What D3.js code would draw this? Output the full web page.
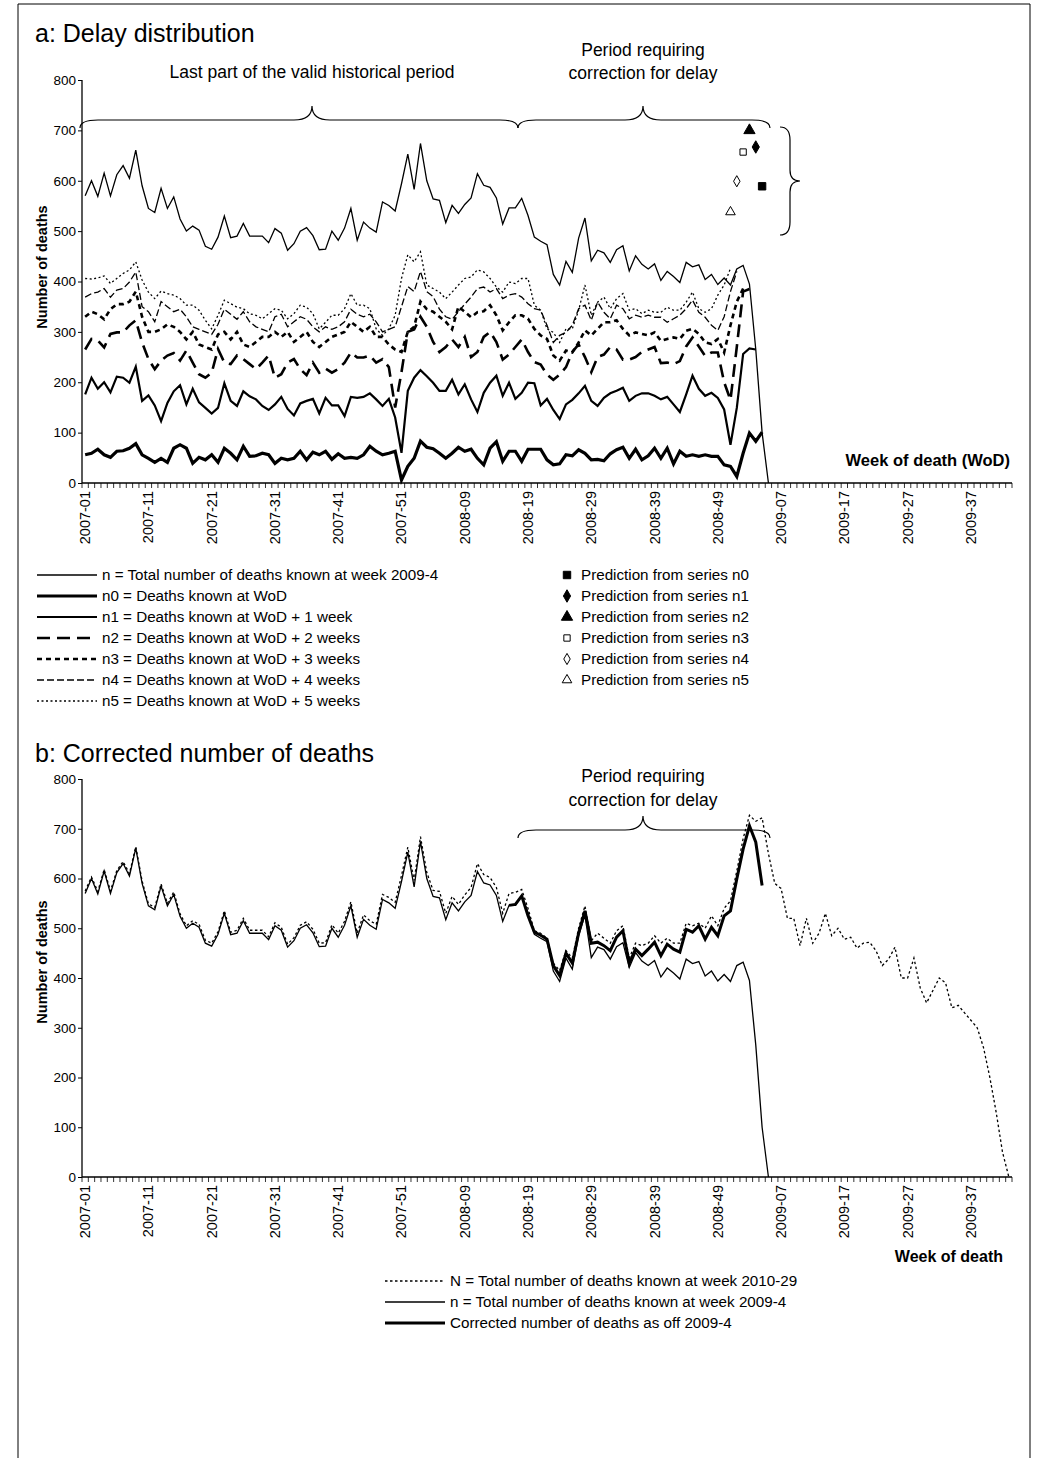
<!DOCTYPE html>
<html><head><meta charset="utf-8">
<script src="https://cdn.jsdelivr.net/npm/d3@7"></script>
<style>body{margin:0;background:#fff}svg text{font-family:"Liberation Sans",Arial,sans-serif}</style>
</head><body>
<svg id="c" width="1044" height="1458"></svg>
<script>
// ---- data ----
const nWeeks = 147; // 2007-01 .. 2009-43
const categories = [];
for (let i = 0; i < nWeeks; i++) {
  const y = i < 52 ? 2007 : i < 104 ? 2008 : 2009;
  const w = i < 52 ? i + 1 : i < 104 ? i - 51 : i - 103;
  categories.push(y + "-" + String(w).padStart(2, "0"));
}
const tickLabels = ["2007-01","2007-11","2007-21","2007-31","2007-41","2007-51","2008-09","2008-19","2008-29","2008-39","2008-49","2009-07","2009-17","2009-27","2009-37"];
const yTicks = [0,100,200,300,400,500,600,700,800];

const nTotal = [570,600,569,615,570,612,630,605,661,590,545,537,585,545,568,524,500,510,502,470,464,488,530,487,490,515,490,490,490,477,
505,496,462,475,500,507,491,463,464,500,482,506,545,482,518,506,498,558,551,540,594,653,583,674,600,564,561,517,551,535,553,
566,614,591,587,566,514,546,546,565,531,488,480,473,414,393,440,418,486,526,441,462,457,438,463,471,421,451,434,425,435,
402,420,410,398,438,429,433,404,414,394,407,393,425,432,395,265,100,0];
const n0 = [56,59,67,56,51,63,64,69,78,56,49,41,49,41,69,76,69,39,51,46,56,41,69,59,46,73,53,54,59,56,
39,49,46,49,63,46,61,56,63,47,58,49,51,49,56,73,63,56,59,63,6,33,49,83,71,68,59,49,59,71,63,
67,49,36,69,82,43,63,63,43,67,67,67,46,36,38,56,54,66,59,46,47,44,58,66,71,49,67,46,54,69,
49,69,38,63,53,56,53,56,53,53,36,33,13,59,99,83,101];
const n1 = [176,209,187,200,180,211,209,199,231,163,174,154,123,159,182,194,156,187,160,149,138,149,198,163,153,182,172,166,153,145,
156,171,147,134,158,163,167,138,169,154,154,133,171,169,171,178,166,153,167,130,60,183,209,224,212,199,183,183,205,176,196,
166,141,179,199,213,173,199,167,179,199,198,154,167,145,127,156,165,178,193,163,153,169,178,183,189,163,173,178,178,173,
166,171,156,141,176,213,187,173,179,169,146,76,149,256,267,265];
const n2 = [265,286,283,269,296,299,299,313,323,279,246,226,243,253,258,243,263,239,216,209,219,266,239,236,253,246,236,226,239,253,
209,216,239,246,226,214,239,219,227,219,226,239,259,249,249,253,239,246,230,150,220,300,305,330,310,280,260,270,285,270,290,
250,260,290,300,280,245,255,270,285,260,240,235,215,205,215,230,260,275,250,220,250,255,270,265,245,245,250,260,265,270,
238,239,236,242,271,289,271,252,259,259,200,165,270,380,385];
const n3 = [330,340,335,325,345,355,355,360,380,330,300,300,305,315,310,300,285,300,275,270,265,295,300,285,300,275,270,280,290,290,
300,290,300,280,290,300,280,270,280,290,295,300,320,310,300,310,290,290,275,265,260,300,310,360,345,340,330,320,305,350,340,
329,339,341,353,333,303,319,333,333,326,306,293,286,253,243,263,259,279,303,293,306,319,319,323,306,293,299,296,293,299,
282,286,289,286,302,306,296,279,276,286,259,313,360,386];
const n4 = [369,376,379,386,369,383,386,399,419,350,340,320,360,350,340,345,330,310,305,300,295,315,345,335,325,340,320,310,305,300,
330,335,310,320,330,325,310,300,310,305,310,320,345,335,330,335,320,300,305,310,350,390,380,420,380,370,345,330,325,340,355,
369,386,389,379,386,366,373,376,369,356,346,343,313,279,293,299,313,346,353,323,359,339,326,353,346,326,333,329,333,329,
329,319,326,333,346,363,339,329,313,303,330,380,420];
const n5 = [406,405,407,411,396,406,416,423,439,403,379,366,381,376,373,366,353,353,343,323,306,333,363,356,349,346,336,333,326,336,
346,343,326,336,353,349,336,306,319,333,333,346,376,353,353,346,306,293,306,333,406,453,439,459,393,386,379,366,379,393,406,
409,423,419,406,389,379,399,396,406,406,353,343,306,299,279,306,306,343,393,333,359,369,346,366,376,343,346,336,343,339,
339,349,343,343,359,379,346,339,346,373,393,426];
const predWeeks = [107,106,105,104,103,102];
const predValues = [589,667,700,657,599,538];
const predLabels = ["Prediction from series n0","Prediction from series n1","Prediction from series n2","Prediction from series n3","Prediction from series n4","Prediction from series n5"];

const correctedStart = 67;
const corrected = [546,548,565,525,492,486,478,425,405,450,430,490,535,470,472,465,455,482,495,430,458,445,458,472,445,468,458,452,498,492,505,478,502,485,525,535,599,659,706,673,586];
const N = [575,603,574,618,575,616,634,610,664,595,549,542,589,550,573,529,505,515,508,476,470,493,535,492,496,520,496,496,496,483,
511,502,468,481,506,513,498,470,471,507,490,514,553,490,527,515,508,568,562,552,606,663,596,684,612,576,574,530,564,548,567,
582,630,608,602,582,530,
570,572,578,540,495,490,480,430,415,455,440,500,545,475,490,480,470,495,505,440,470,465,470,485,470,480,470,470,510,505,510,500,525,505,540,555,615,680,727,715,722,
650,590,580,520,520,465,520,470,490,530,485,500,478,482,460,470,472,455,425,438,462,400,400,440,380,350,375,400,390,340,345,330,315,300,260,200,130,50,0];

// ---- drawing ----
const svg = d3.select("#c");
svg.append("path").attr("d","M18,1470 L18,4 L1030,4 L1030,1470").attr("fill","none").attr("stroke","#000").attr("stroke-width",1);

const x = d3.scaleBand().domain(categories).range([82,1012]);
const cx = c => x(c) + x.bandwidth()/2;
const X0 = 82, X1 = 1012;

function brace(g, x1, x2, y0, xm) {
  g.append("path").attr("fill","none").attr("stroke","#000").attr("stroke-width",1.2)
   .attr("d",`M${x1},${y0+8} Q${x1},${y0} ${x1+18},${y0} L${xm-18},${y0} Q${xm},${y0} ${xm},${y0-14} Q${xm},${y0} ${xm+18},${y0} L${x2-18},${y0} Q${x2},${y0} ${x2},${y0+8}`);
}

function panel(y0px, y800px, axisTitleY) {
  const y = d3.scaleLinear().domain([0,800]).range([y0px, y800px]);
  const g = svg.append("g");
  g.append("g").attr("transform",`translate(${X0},0)`)
    .call(d3.axisLeft(y).tickValues(yTicks).tickSize(4).tickPadding(2))
    .call(a=>{a.select(".domain").attr("stroke-width",1.3).attr("d",`M0,${y0px}V${y800px}`);a.selectAll("text").attr("font-size",13.5).attr("fill","#000");});
  const xa = g.append("g").attr("transform",`translate(0,${y0px})`);
  xa.append("line").attr("x1",X0).attr("x2",X1).attr("stroke","#000").attr("stroke-width",1.3);
  xa.selectAll("line.t").data(d3.range(nWeeks+1)).join("line").attr("class","t")
    .attr("x1",i=>X0+i*x.bandwidth()).attr("x2",i=>X0+i*x.bandwidth()).attr("y1",0).attr("y2",5).attr("stroke","#000").attr("stroke-width",0.8);
  xa.selectAll("text").data(tickLabels).join("text")
    .attr("transform",d=>`translate(${cx(d)+5},8) rotate(-90)`).attr("text-anchor","end")
    .attr("font-size",14.5).text(d=>d);
  g.append("text").attr("transform",`translate(47,${axisTitleY}) rotate(-90)`).attr("text-anchor","middle")
    .attr("font-size",14.5).attr("font-weight","bold").text("Number of deaths");
  return {g,y};
}

function drawLine(g, y, vals, start, style) {
  const line = d3.line().x((d,i)=>cx(categories[start+i])).y(d=>y(d));
  g.append("path").datum(vals).attr("d",line).attr("fill","none").attr("stroke","#000")
   .attr("stroke-width",style.w).attr("stroke-dasharray",style.dash||null);
}

const styles = {
  n:{w:1.3}, n0:{w:3.2}, n1:{w:2.2}, n2:{w:2.6,dash:"13,7"}, n3:{w:2.6,dash:"5,4"}, n4:{w:1.3,dash:"7,3"}, n5:{w:1.3,dash:"2,2.5"},
  N:{w:1.3,dash:"2.5,2.5"}, corr:{w:3}
};

// ---- panel a ----
svg.append("text").attr("x",35).attr("y",42).attr("font-size",25).text("a: Delay distribution");
const A = panel(483, 80, 267);
const ga = A.g, ya = A.y;
drawLine(ga, ya, n5, 0, styles.n5);
drawLine(ga, ya, n4, 0, styles.n4);
drawLine(ga, ya, n3, 0, styles.n3);
drawLine(ga, ya, n2, 0, styles.n2);
drawLine(ga, ya, n1, 0, styles.n1);
drawLine(ga, ya, n0, 0, styles.n0);
drawLine(ga, ya, nTotal, 0, styles.n);

const sym = [d3.symbolSquare, d3.symbolDiamond, d3.symbolTriangle, d3.symbolSquare, d3.symbolDiamond, d3.symbolTriangle];
const symFill = ["#000","#000","#000","#fff","#fff","#fff"];
const symSize = [55,45,55,40,36,40];
predWeeks.forEach((w,k)=>{
  ga.append("path").attr("d",d3.symbol(sym[k],symSize[k])())
    .attr("transform",`translate(${cx(categories[w])},${ya(predValues[k])})`)
    .attr("fill",symFill[k]).attr("stroke","#000").attr("stroke-width",1);
});

brace(ga, 80, 518, 120, 312);
brace(ga, 518, 770, 120, 643);
ga.append("path").attr("fill","none").attr("stroke","#000").attr("stroke-width",1.2)
  .attr("d","M780,127 Q790,127 790,140 L790,170 Q790,181 800,181 Q790,181 790,192 L790,222 Q790,235 780,235");
ga.append("text").attr("x",312).attr("y",78).attr("text-anchor","middle").attr("font-size",17.5).text("Last part of the valid historical period");
ga.append("text").attr("x",643).attr("y",56).attr("text-anchor","middle").attr("font-size",17.5).text("Period requiring");
ga.append("text").attr("x",643).attr("y",79).attr("text-anchor","middle").attr("font-size",17.5).text("correction for delay");
ga.append("text").attr("x",1010).attr("y",466).attr("text-anchor","end").attr("font-size",16.5).attr("font-weight","bold").text("Week of death (WoD)");

const legA = [
  ["n = Total number of deaths known at week 2009-4", styles.n],
  ["n0 = Deaths known at WoD", styles.n0],
  ["n1 = Deaths known at WoD + 1 week", styles.n1],
  ["n2 = Deaths known at WoD + 2 weeks", styles.n2],
  ["n3 = Deaths known at WoD + 3 weeks", styles.n3],
  ["n4 = Deaths known at WoD + 4 weeks", styles.n4],
  ["n5 = Deaths known at WoD + 5 weeks", styles.n5]
];
legA.forEach((d,k)=>{
  const yy = 580 + k*21;
  svg.append("line").attr("x1",37).attr("x2",97).attr("y1",yy-5).attr("y2",yy-5).attr("stroke","#000")
    .attr("stroke-width",d[1].w).attr("stroke-dasharray",d[1].dash||null);
  svg.append("text").attr("x",102).attr("y",yy).attr("font-size",15.2).text(d[0]);
});
predLabels.forEach((t,k)=>{
  const yy = 580 + k*21;
  svg.append("path").attr("d",d3.symbol(sym[k],symSize[k])()).attr("transform",`translate(567,${yy-5})`)
    .attr("fill",symFill[k]).attr("stroke","#000").attr("stroke-width",1);
  svg.append("text").attr("x",581).attr("y",yy).attr("font-size",15.2).text(t);
});

// ---- panel b ----
svg.append("text").attr("x",35).attr("y",762).attr("font-size",25).text("b: Corrected number of deaths");
const B = panel(1177, 779, 962);
const gb = B.g, yb = B.y;
drawLine(gb, yb, N, 0, styles.N);
drawLine(gb, yb, nTotal, 0, styles.n);
drawLine(gb, yb, corrected, correctedStart, styles.corr);
brace(gb, 518, 770, 830, 643);
gb.append("text").attr("x",643).attr("y",782).attr("text-anchor","middle").attr("font-size",17.5).text("Period requiring");
gb.append("text").attr("x",643).attr("y",806).attr("text-anchor","middle").attr("font-size",17.5).text("correction for delay");
gb.append("text").attr("x",1003).attr("y",1262).attr("text-anchor","end").attr("font-size",16).attr("font-weight","bold").text("Week of death");
const legB = [
  ["N = Total number of deaths known at week 2010-29", styles.N],
  ["n = Total number of deaths known at week 2009-4", styles.n],
  ["Corrected number of deaths as off 2009-4", styles.corr]
];
legB.forEach((d,k)=>{
  const yy = 1286 + k*21;
  svg.append("line").attr("x1",385).attr("x2",445).attr("y1",yy-5).attr("y2",yy-5).attr("stroke","#000")
    .attr("stroke-width",d[1].w).attr("stroke-dasharray",d[1].dash||null);
  svg.append("text").attr("x",450).attr("y",yy).attr("font-size",15.2).text(d[0]);
});
</script>
</body></html>
